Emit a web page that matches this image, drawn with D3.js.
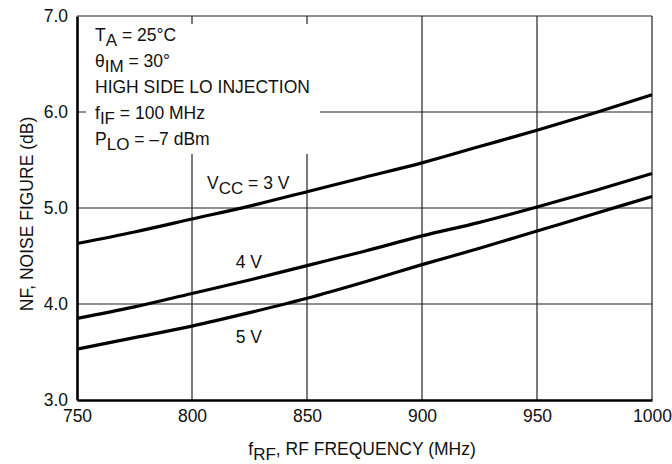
<!DOCTYPE html>
<html>
<head>
<meta charset="utf-8">
<script src="https://cdn.jsdelivr.net/npm/d3@7"></script>
<style>
  body { margin: 0; background: #fff; }
  svg text { font-family: "Liberation Sans", Arial, sans-serif; font-size: 17.5px; fill: #111; }
</style>
</head>
<body>
<div id="chart"></div>
<script>
// frequency in MHz, noise figure in dB
var freq = [750, 775, 800, 825, 850, 875, 900, 925, 950, 975, 1000];
var nf3V = [4.63, 4.75, 4.885, 5.02, 5.17, 5.32, 5.47, 5.64, 5.81, 5.99, 6.18];
var nf4V = [3.85, 3.97, 4.11, 4.25, 4.40, 4.55, 4.71, 4.85, 5.01, 5.18, 5.36];
var nf5V = [3.53, 3.65, 3.77, 3.91, 4.06, 4.23, 4.41, 4.58, 4.76, 4.94, 5.12];
var xTicks = [750, 800, 850, 900, 950, 1000];
var yTicks = [3, 4, 5, 6, 7];

var w = 672, h = 464;
var padLeft = 77, padTop = 16, plotRight = 652, plotBottom = 400;

var svg = d3.select("#chart")
    .append("svg")
    .attr("width", w)
    .attr("height", h);

var xScale = d3.scaleLinear().domain([750, 1000]).range([padLeft, plotRight]);
var yScale = d3.scaleLinear().domain([3, 7]).range([plotBottom, padTop]);

//grid
svg.append("g")
    .selectAll("line")
    .data(xTicks.slice(1))
    .enter()
    .append("line")
    .attr("x1", function (d) { return xScale(d); })
    .attr("x2", function (d) { return xScale(d); })
    .attr("y1", padTop)
    .attr("y2", plotBottom)
    .attr("stroke", "#222")
    .attr("stroke-width", 1.2);

svg.append("g")
    .selectAll("line")
    .data(yTicks.slice(1))
    .enter()
    .append("line")
    .attr("x1", padLeft)
    .attr("x2", plotRight)
    .attr("y1", function (d) { return yScale(d); })
    .attr("y2", function (d) { return yScale(d); })
    .attr("stroke", "#222")
    .attr("stroke-width", 1.2);

// white box behind the conditions text
svg.append("rect")
    .attr("x", padLeft + 9)
    .attr("y", padTop + 8)
    .attr("width", 320 - padLeft - 9)
    .attr("height", 154 - padTop - 8)
    .attr("fill", "#fff");

//curves
var line = d3.line()
    .x(function (d) { return xScale(d[0]); })
    .y(function (d) { return yScale(d[1]); })
    .curve(d3.curveMonotoneX);

[nf3V, nf4V, nf5V].forEach(function (s) {
    svg.append("path")
        .datum(freq.map(function (f, i) { return [f, s[i]]; }))
        .attr("d", line)
        .attr("fill", "none")
        .attr("stroke", "#000")
        .attr("stroke-width", 3.2);
});

//axes
var xAxis = d3.axisBottom(xScale)
    .tickValues(xTicks)
    .tickFormat(d3.format("d"))
    .tickSize(0)
    .tickSizeOuter(0)
    .tickPadding(10);

var yAxis = d3.axisLeft(yScale)
    .tickValues(yTicks)
    .tickFormat(d3.format(".1f"))
    .tickSize(0)
    .tickSizeOuter(0)
    .tickPadding(9);

var gx = svg.append("g")
    .attr("transform", "translate(0," + plotBottom + ")")
    .call(xAxis);
var gy = svg.append("g")
    .attr("transform", "translate(" + padLeft + ",0)")
    .call(yAxis);

[gx, gy].forEach(function (g) {
    g.select(".domain").attr("stroke", "#000").attr("stroke-width", 2.6);
    g.selectAll("text")
        .attr("fill", "#111")
        .style("font-family", "'Liberation Sans', Arial, sans-serif")
        .style("font-size", "17.5px");
});

//text with subscripts
function subText(x, y, parts, anchor) {
    var t = svg.append("text")
        .attr("x", x)
        .attr("y", y)
        .attr("text-anchor", anchor || "start");
    parts.forEach(function (p) {
        var s = t.append("tspan").text(p[0]);
        if (p[1] == "sub") s.attr("dy", 5).style("font-size", "17px");
        if (p[1] == "up") s.attr("dy", -5);
    });
    return t;
}

subText(95, 40.7, [["T"], ["A", "sub"], [" = 25°C", "up"]]);
subText(95, 66.7, [["θ"], ["IM", "sub"], [" = 30°", "up"]]);
subText(95, 92.7, [["HIGH SIDE LO INJECTION"]]);
subText(95, 119, [["f"], ["IF", "sub"], [" = 100 MHz", "up"]]);
subText(95, 145, [["P"], ["LO", "sub"], [" = –7 dBm", "up"]]);

// curve labels
var labelPos = [[806.5, 5.2], [819, 4.375], [819, 3.594]];
subText(xScale(labelPos[0][0]), yScale(labelPos[0][1]), [["V"], ["CC", "sub"], [" = 3 V", "up"]]);
subText(xScale(labelPos[1][0]), yScale(labelPos[1][1]), [["4 V"]]);
subText(xScale(labelPos[2][0]), yScale(labelPos[2][1]), [["5 V"]]);

// axis titles
subText(362, 455, [["f"], ["RF", "sub"], [", RF FREQUENCY (MHz)", "up"]], "middle");
svg.append("text")
    .attr("transform", "translate(33,214) rotate(-90)")
    .attr("text-anchor", "middle")
    .text("NF, NOISE FIGURE (dB)");
</script>
</body>
</html>
